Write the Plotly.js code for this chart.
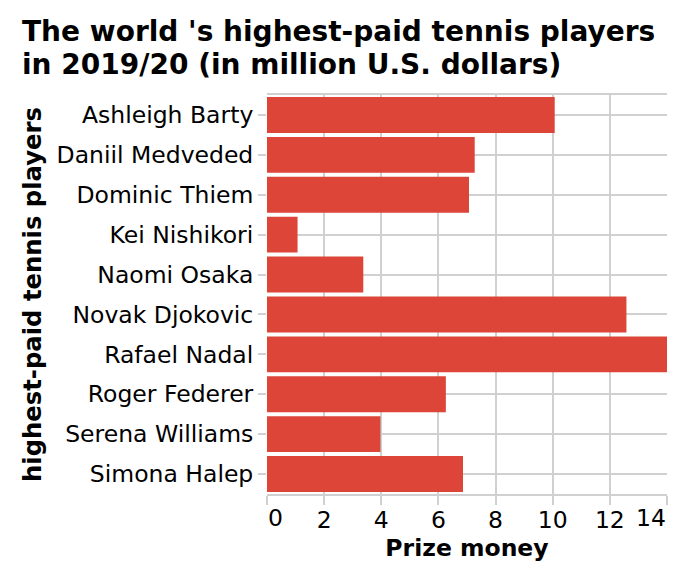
<!DOCTYPE html>
<html>
<head>
<meta charset="utf-8">
<script src="https://cdn.plot.ly/plotly-3.0.1.min.js"></script>
<style>html,body{margin:0;padding:0;background:#fff;}#chart{width:688px;height:580px;}</style>
</head>
<body>
<div id="chart"></div>
<script>
const players = ["Ashleigh Barty","Daniil Medveded","Dominic Thiem","Kei Nishikori","Naomi Osaka","Novak Djokovic","Rafael Nadal","Roger Federer","Serena Williams","Simona Halep"];
const prizeMoney = [10.07, 7.27, 7.07, 1.07, 3.37, 12.58, 14.0, 6.26, 3.97, 6.86];
const xTicks = [0, 2, 4, 6, 8, 10, 12, 14];
const titleLines = ["The world 's highest-paid tennis players", "in 2019/20 (in million U.S. dollars)"];

const gridColor = '#d0d0d0';
const font = 'DejaVu Sans, Verdana, sans-serif';
const plotTop = 94.5, plotH = 400;
const py = p => 1 + (plotTop - p) / plotH;   // pixel y -> paper y

const trace = {
  type: 'bar',
  orientation: 'h',
  y: players,
  x: prizeMoney,
  marker: {color: '#dc4538'},
  hoverinfo: 'x+y'
};

const first = xTicks[0], last = xTicks[xTicks.length - 1];
const tickFont = {family: font, size: 23.5, color: '#000'};

const annotations = [
  {text: titleLines[0], y: py(31)},
  {text: titleLines[1], y: py(63.5)}
].map(a => ({
  text: a.text, xref: 'paper', yref: 'paper', x: (20 - 266.7) / 400, y: a.y,
  xanchor: 'left', yanchor: 'middle', showarrow: false,
  font: {family: font, size: 28, color: '#000', weight: 'bold'}
}));

// flush first/last x tick labels (left/right aligned to the plot edges)
annotations.push({text: String(first), xref: 'x', yref: 'paper', x: first, y: py(519),
  xanchor: 'left', yanchor: 'middle', xshift: -1, showarrow: false, font: tickFont});
annotations.push({text: String(last), xref: 'x', yref: 'paper', x: last, y: py(519),
  xanchor: 'right', yanchor: 'middle', xshift: 1, showarrow: false, font: tickFont});

const layout = {
  width: 688, height: 580,
  margin: {l: 266.7, r: 21.3, t: plotTop, b: 580 - plotTop - plotH, pad: 0},
  paper_bgcolor: '#fff', plot_bgcolor: '#fff',
  bargap: 0.1,
  showlegend: false,
  annotations: annotations,
  xaxis: {
    range: [first, last],
    tickvals: xTicks,
    ticktext: xTicks.map(v => (v === first || v === last) ? '' : String(v)),
    showgrid: true, gridcolor: gridColor, gridwidth: 2,
    zeroline: false,
    showline: true, linecolor: gridColor, linewidth: 2, mirror: true,
    ticks: 'outside', ticklen: 9, tickwidth: 2, tickcolor: gridColor,
    ticklabelstandoff: -5,
    tickfont: tickFont,
    title: {text: 'Prize money', font: {family: font, size: 23.5, color: '#000', weight: 'bold'}, standoff: 4},
    fixedrange: true
  },
  yaxis: {
    autorange: 'reversed',
    type: 'category',
    showgrid: true, gridcolor: gridColor, gridwidth: 2,
    zeroline: false,
    showline: false,
    ticks: 'outside', ticklen: 8, tickwidth: 2, tickcolor: gridColor,
    tickfont: tickFont,
    title: {text: 'highest-paid tennis players', font: {family: font, size: 24.3, color: '#000', weight: 'bold'}, standoff: 8},
    fixedrange: true
  }
};

Plotly.newPlot('chart', [trace], layout, {displayModeBar: false, staticPlot: true});
</script>
</body>
</html>
